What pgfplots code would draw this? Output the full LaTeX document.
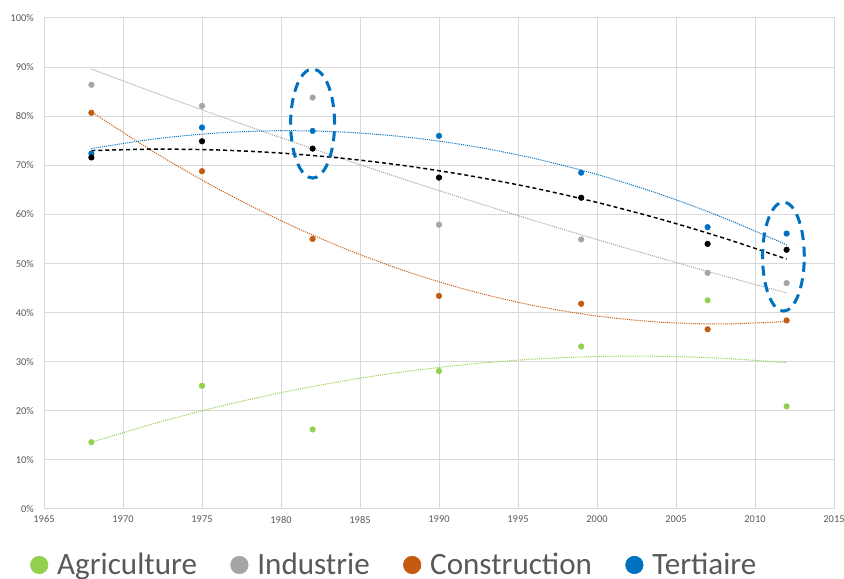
\documentclass[border=0pt]{standalone}
\usepackage{pgfplots}
\pgfplotsset{compat=1.18}
\usepackage{fontspec}
\setmainfont{Carlito}
\definecolor{agri}{HTML}{92D050}
\definecolor{indus}{HTML}{A5A5A5}
\definecolor{constr}{HTML}{C55A11}
\definecolor{tert}{HTML}{0070C0}
\definecolor{gridc}{HTML}{D9D9D9}
\definecolor{txt}{HTML}{595959}
\begin{document}
\begin{tikzpicture}
\begin{axis}[
  at={(0,0)}, anchor=south west,
  scale only axis, width=592.5pt, height=368.25pt,
  xmin=1965, xmax=2015, ymin=0, ymax=100,
  xtick={1965,1970,...,2015}, ytick={0,10,...,100},
  grid=major, grid style={gridc, line width=0.75pt},
  axis line style={gridc, line width=0.75pt},
  major tick length=0pt,
  /pgf/number format/assume math mode=true,
  /pgf/number format/1000 sep={},
  yticklabel={\pgfmathprintnumber{\tick}\%},
  ticklabel style={font=\fontsize{7.8}{9}\selectfont, text=txt, inner sep=0pt},
  yticklabel style={anchor=east, xshift=-7.5pt},
  xticklabel style={anchor=north, yshift=-5pt},
  legend style={draw=none, fill=none, at={(-0.0175,-0.114)}, anchor=west,
    inner sep=0pt, outer sep=0pt,
    font=\fontsize{23.3}{27}\selectfont, text=txt,
    legend columns=4,
    /tikz/every odd column/.append style={column sep=4.7pt},
    /tikz/every even column/.append style={column sep=23pt}},
  trend/.style={line width=0.75pt, dash pattern=on 0.8pt off 0.8pt, smooth},
  pts/.style={only marks, mark=*, mark size=2.1pt},
]
% scatter series
\addplot[pts, agri, mark options={fill=agri, draw=agri},
  legend image code/.code={\fill[agri] (0pt,0pt) circle (6.6pt);}] coordinates {
 (1968,13.6) (1975,25.1) (1982,16.2) (1990,28.1) (1999,33.1) (2007,42.5) (2012,20.9)};
\addlegendentry{Agriculture}
\addplot[pts, indus, mark options={fill=indus, draw=indus},
  legend image code/.code={\fill[indus] (0pt,0pt) circle (6.6pt);}] coordinates {
 (1968,86.4) (1975,82.1) (1982,83.8) (1990,57.9) (1999,54.9) (2007,48.1) (2012,46.0)};
\addlegendentry{Industrie}
\addplot[pts, constr, mark options={fill=constr, draw=constr},
  legend image code/.code={\fill[constr] (0pt,0pt) circle (6.6pt);}] coordinates {
 (1968,80.7) (1975,68.8) (1982,55.0) (1990,43.4) (1999,41.8) (2007,36.6) (2012,38.4)};
\addlegendentry{Construction}
\addplot[pts, tert, mark options={fill=tert, draw=tert},
  legend image code/.code={\fill[tert] (0pt,0pt) circle (6.6pt);}] coordinates {
 (1968,72.4) (1975,77.7) (1982,77.0) (1990,76.0) (1999,68.5) (2007,57.4) (2012,56.1)};
\addlegendentry{Tertiaire}
\addplot[pts, black, forget plot] coordinates {
 (1968,71.6) (1975,74.9) (1982,73.4) (1990,67.5) (1999,63.4) (2007,54.0) (2012,52.8)};
% trend lines
\addplot[trend, agri, forget plot] coordinates {
 (1968,13.6) (1972,17.43) (1976,20.80) (1980,23.69) (1984,26.10) (1988,28.05)
 (1992,29.52) (1996,30.52) (2000,31.05) (2004,31.10) (2008,30.69) (2012,29.80)};
\addplot[trend, indus, forget plot] coordinates {
 (1968,89.6) (1972,84.81) (1976,80.15) (1980,75.61) (1984,71.21) (1988,66.93)
 (1992,62.79) (1996,58.77) (2000,54.88) (2004,51.13) (2008,47.50) (2012,44.00)};
\addplot[trend, constr, forget plot] coordinates {
 (1968,80.9) (1972,72.63) (1976,65.23) (1980,58.72) (1984,53.08) (1988,48.32)
 (1992,44.43) (1996,41.43) (2000,39.30) (2004,38.05) (2008,37.68) (2012,38.19)};
\addplot[trend, tert, forget plot] coordinates {
 (1968,73.4) (1972,75.37) (1976,76.58) (1980,77.05) (1984,76.76) (1988,75.73)
 (1992,73.95) (1996,71.42) (2000,68.14) (2004,64.11) (2008,59.33) (2012,53.80)};
\addplot[black, line width=1.1pt, dash pattern=on 3pt off 2.2pt, smooth, forget plot] coordinates {
 (1968,73.0) (1972,73.29) (1976,73.12) (1980,72.49) (1984,71.40) (1988,69.85)
 (1992,67.84) (1996,65.37) (2000,62.44) (2004,59.05) (2008,55.20) (2012,50.90)};
% highlight ellipses
\draw[tert, line width=2.25pt, dash pattern=on 7.5pt off 5pt] (axis cs:1982,78.5) ellipse [x radius=1.39, y radius=11.1];
\draw[tert, line width=2.25pt, dash pattern=on 7.5pt off 5pt] (axis cs:2011.8,51.4) ellipse [x radius=1.32, y radius=11.1];
\end{axis}
\pgfresetboundingbox
\path[use as bounding box] (-33pt,-52.5pt) rectangle (600pt,381.75pt);
\end{tikzpicture}
\end{document}
